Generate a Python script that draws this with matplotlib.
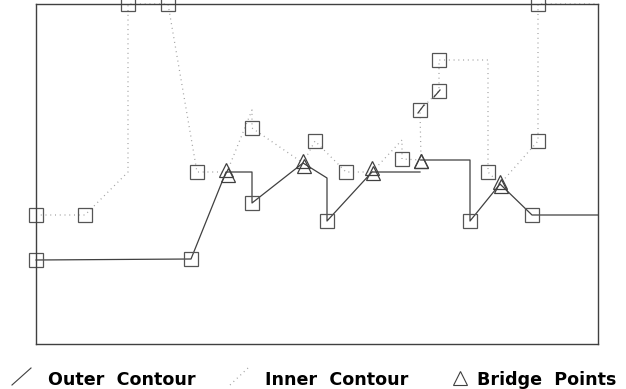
import matplotlib
matplotlib.use('Agg')
import matplotlib.pyplot as plt
from matplotlib.lines import Line2D

# contour data (x to the right, y upwards)
outer_x = [0, 155, 190, 216, 216, 267, 291, 291, 336, 384]
outer_y = [84, 85, 172, 172, 141, 181, 166, 123, 172, 172]
outer2_x = [385, 434, 434, 464, 496, 562]
outer2_y = [184, 184, 123, 160, 129, 129]
stub_x = [[382, 388], [398, 404]]
stub_y = [[231, 239], [247, 254]]

inner_x = [0, 49, 92, 92, 132, 161, 191, 216, 216, 267, 279, 310, 336, 366,
           366, 385, 384, 403, 403, 452, 452, 464, 502, 502, 562]
inner_y = [129, 129, 172, 340, 340, 172, 172, 234, 216, 181, 203, 172, 172, 204,
           185, 184, 234, 253, 284, 284, 172, 160, 203, 340, 340]

vert_x = [0, 49, 92, 132, 161, 216, 216, 155, 0, 291, 279, 310, 366, 384,
          403, 403, 434, 452, 496, 502, 502]
vert_y = [129, 129, 340, 340, 172, 216, 141, 85, 84, 123, 203, 172, 185, 234,
          253, 284, 123, 172, 129, 203, 340]

bridge_x = [190, 267, 336, 385, 464]
bridge_y = [174, 183, 176, 183, 162]
bridge2_x = [192, 268, 337, 385, 465]
bridge2_y = [169, 178, 171, 183, 158]

fig = plt.figure(figsize=(6.26, 3.89), dpi=100)
ax = fig.add_axes([36 / 626, 45 / 389, 562 / 626, 340 / 389])
ax.set_xlim(0, 562)
ax.set_ylim(0, 340)
ax.set_xticks([])
ax.set_yticks([])
for s in ax.spines.values():
    s.set_color('#404040')
    s.set_linewidth(1.0)

dot = (0, (0.8, 3.0))
ax.plot(inner_x, inner_y, color='#a0a0a0', lw=0.9, ls=dot, clip_on=False)
ax.plot(outer_x, outer_y, color='#404040', lw=0.9, clip_on=False)
ax.plot(outer2_x, outer2_y, color='#404040', lw=0.9, clip_on=False)
for sx, sy in zip(stub_x, stub_y):
    ax.plot(sx, sy, color='#404040', lw=0.9)

ax.plot(vert_x, vert_y, ls='none', marker='s', ms=10, mfc='none',
        mec='#555555', mew=0.9, clip_on=False)
ax.plot(bridge_x, bridge_y, ls='none', marker='^', ms=10.5, mfc='none',
        mec='#404040', mew=0.9)
ax.plot(bridge2_x, bridge2_y, ls='none', marker='^', ms=10.5, mfc='none',
        mec='#404040', mew=0.9)

# legend drawn along the bottom
H, W = 389, 626
fig.add_artist(Line2D([12 / W, 31 / W], [1 - 385 / H, 1 - 368 / H],
                      color='#404040', lw=0.8))
fig.add_artist(Line2D([230 / W, 248 / W], [1 - 385 / H, 1 - 368 / H],
                      color='#a0a0a0', lw=0.9, ls=dot))
fig.add_artist(Line2D([460 / W], [1 - 378 / H], marker='^', ms=10, mfc='none',
                      mec='#404040', mew=0.8, ls='none'))
font = dict(family='DejaVu Sans', fontsize=12.6, fontweight='bold',
            va='baseline', ha='left', color='black')
fig.text(48 / W, 1 - 385 / H, 'Outer  Contour', **font)
fig.text(265 / W, 1 - 385 / H, 'Inner  Contour', **font)
fig.text(477 / W, 1 - 385 / H, 'Bridge  Points', **font)

fig.savefig('out.png', dpi=100)
